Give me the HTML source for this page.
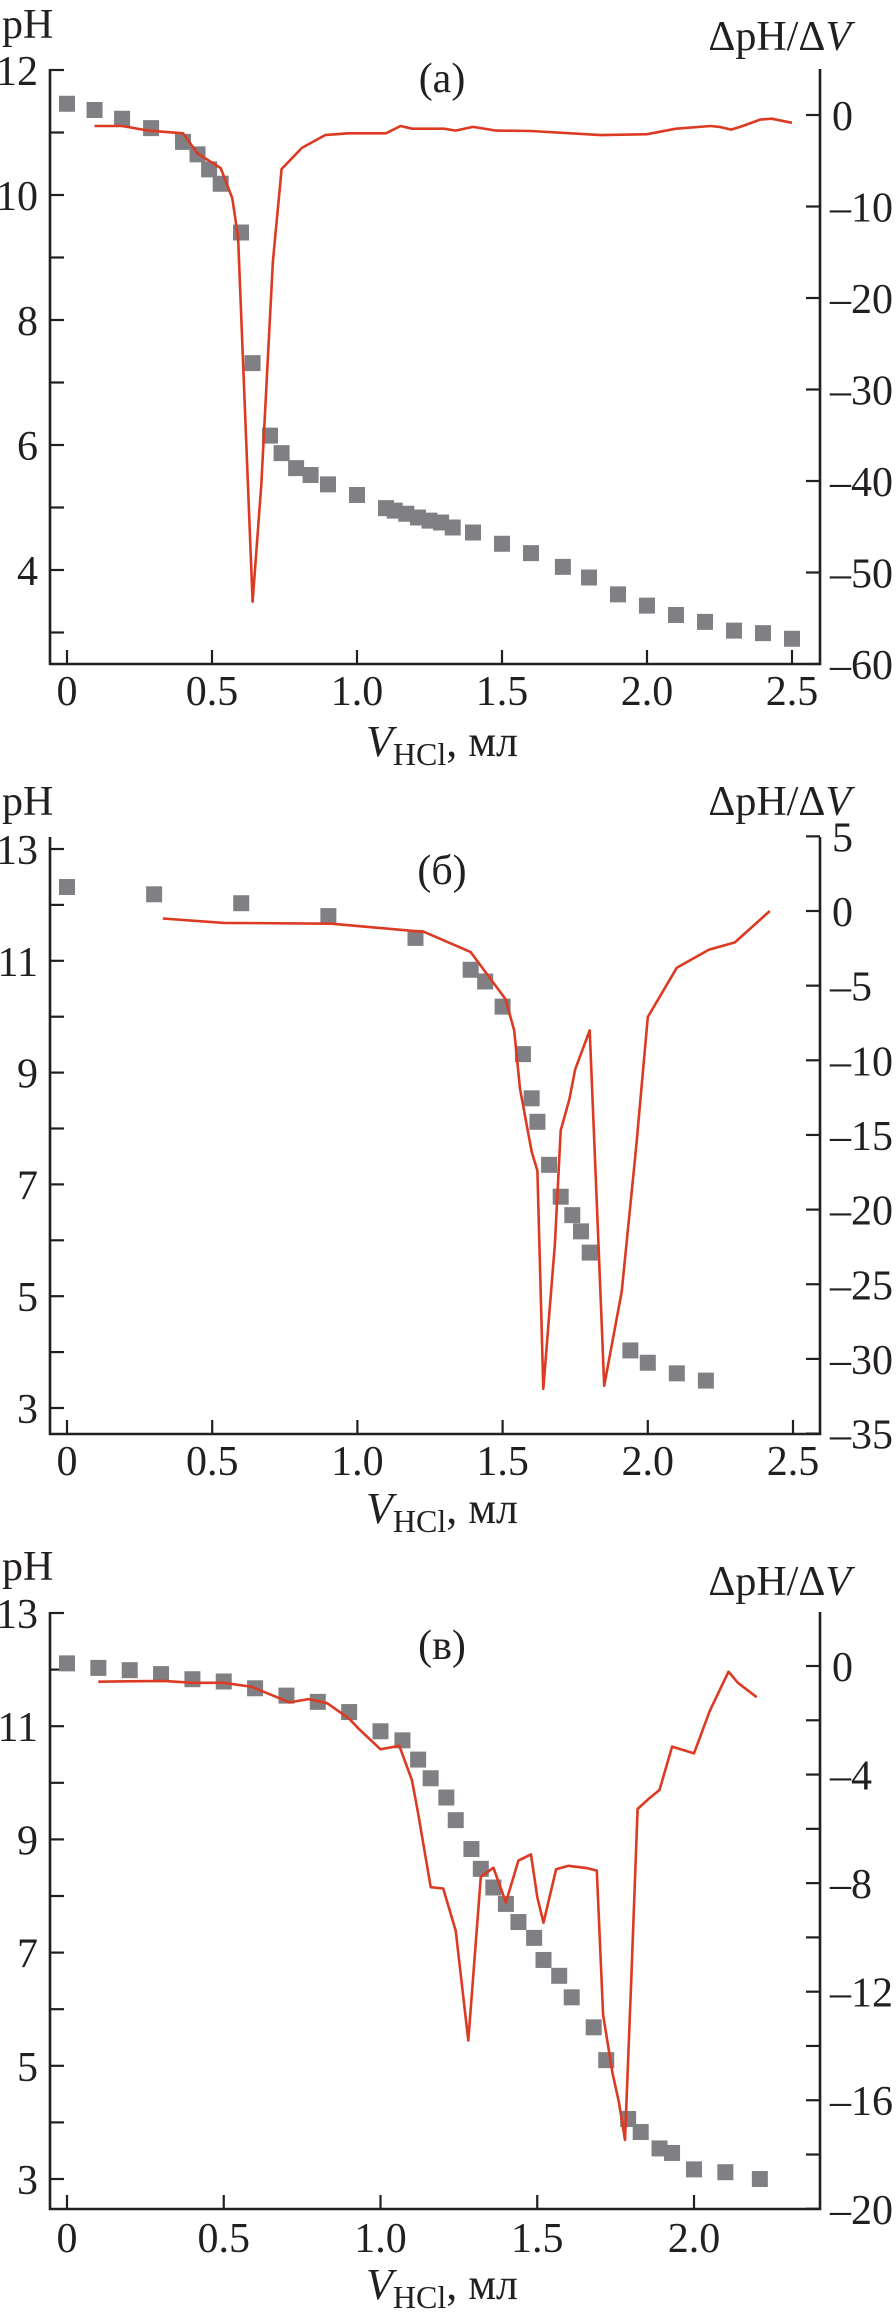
<!DOCTYPE html>
<html><head><meta charset="utf-8">
<style>
html,body{margin:0;padding:0;background:#fff;}
svg{display:block;}
text{font-family:"Liberation Serif","DejaVu Serif",serif;fill:#231f20;}
</style></head>
<body>
<svg id="fig" width="896" height="2320" viewBox="0 0 896 2320" xmlns="http://www.w3.org/2000/svg"></svg>
<script>
// Panel (a) data
const aPhX = [0,0.095,0.19,0.29,0.4,0.45,0.49,0.53,0.6,0.64,0.7,0.74,0.79,0.84,0.9,1.0,1.1,1.13,1.17,1.21,1.25,1.29,1.33,1.4,1.5,1.6,1.71,1.8,1.9,2.0,2.1,2.2,2.3,2.4,2.5];
const aPhY = [11.46,11.36,11.22,11.07,10.85,10.65,10.41,10.18,9.4,7.31,6.15,5.87,5.63,5.52,5.37,5.2,4.99,4.95,4.9,4.84,4.79,4.76,4.68,4.6,4.42,4.27,4.05,3.88,3.61,3.43,3.28,3.17,3.03,2.99,2.9];
const aDX = [0.095,0.19,0.28,0.4,0.45,0.53,0.57,0.59,0.64,0.67,0.71,0.74,0.81,0.89,0.97,1.1,1.15,1.19,1.3,1.34,1.4,1.48,1.6,1.84,2.0,2.1,2.22,2.25,2.29,2.33,2.39,2.43,2.5];
const aDY = [-1.2,-1.2,-1.7,-2.0,-4.2,-5.8,-9.1,-13.4,-53.2,-40.4,-16,-5.9,-3.6,-2.2,-2.0,-2.0,-1.2,-1.5,-1.5,-1.7,-1.3,-1.7,-1.75,-2.2,-2.1,-1.5,-1.2,-1.3,-1.6,-1.2,-0.5,-0.4,-0.85];
// Panel (б) data
const bPhX = [0,0.3,0.6,0.9,1.2,1.39,1.44,1.5,1.57,1.6,1.62,1.66,1.7,1.74,1.77,1.8,1.94,2.0,2.1,2.2];
const bPhY = [12.32,12.19,12.03,11.8,11.41,10.84,10.63,10.18,9.33,8.54,8.12,7.35,6.78,6.45,6.16,5.78,4.03,3.81,3.62,3.49];
const bDX = [0.33,0.54,0.91,1.23,1.39,1.51,1.54,1.56,1.6,1.62,1.64,1.68,1.7,1.73,1.75,1.8,1.82,1.85,1.91,1.96,2.0,2.1,2.21,2.3,2.42];
const bDY = [-0.5,-0.8,-0.85,-1.4,-2.75,-5.9,-8.0,-11.9,-16.1,-17.4,-32,-22.3,-14.7,-12.6,-10.6,-8.0,-17.4,-31.8,-25.5,-15.8,-7.1,-3.8,-2.6,-2.1,0];
// Panel (в) data
const cPhX = [0,0.1,0.2,0.3,0.4,0.5,0.6,0.7,0.8,0.9,1.0,1.07,1.12,1.16,1.21,1.24,1.29,1.32,1.36,1.4,1.44,1.49,1.52,1.57,1.61,1.68,1.72,1.79,1.83,1.89,1.93,2.0,2.1,2.21];
const cPhY = [12.11,12.03,11.99,11.92,11.83,11.79,11.67,11.54,11.43,11.25,10.91,10.75,10.41,10.08,9.74,9.34,8.83,8.48,8.15,7.86,7.54,7.26,6.87,6.59,6.21,5.68,5.1,4.06,3.83,3.54,3.46,3.17,3.12,3.0];
const cDX = [0.1,0.31,0.4,0.5,0.59,0.71,0.77,0.83,0.9,0.93,1.0,1.06,1.1,1.12,1.16,1.2,1.24,1.28,1.32,1.36,1.4,1.44,1.48,1.5,1.52,1.56,1.6,1.66,1.69,1.71,1.74,1.76,1.78,1.8,1.82,1.86,1.89,1.93,2.0,2.05,2.11,2.14,2.2];
const cDY = [-0.58,-0.55,-0.62,-0.62,-0.77,-1.34,-1.22,-1.37,-1.94,-2.31,-3.07,-2.94,-4.2,-5.42,-8.15,-8.2,-9.75,-13.8,-7.77,-7.43,-8.71,-7.17,-6.94,-8.52,-9.46,-7.49,-7.36,-7.45,-7.54,-12.85,-15.0,-16.05,-17.46,-11.53,-5.27,-4.85,-4.57,-2.97,-3.22,-1.66,-0.21,-0.62,-1.15];
// tick labels
const aXTicks = ["0","0.5","1.0","1.5","2.0","2.5"];
const aLTicks = [12,10,8,6,4];
const aRTicks = [0,-10,-20,-30,-40,-50,-60];
const bXTicks = ["0","0.5","1.0","1.5","2.0","2.5"];
const bLTicks = [13,11,9,7,5,3];
const bRTicks = [5,0,-5,-10,-15,-20,-25,-30,-35];
const cXTicks = ["0","0.5","1.0","1.5","2.0"];
const cLTicks = [13,11,9,7,5,3];
const cRTicks = [0,-4,-8,-12,-16,-20];

const NS = "http://www.w3.org/2000/svg";
const svg = document.getElementById('fig');
const FS = 42;
function mk(tag, attrs, parent){
  const e = document.createElementNS(NS, tag);
  for (const k in attrs) e.setAttribute(k, attrs[k]);
  (parent||svg).appendChild(e);
  return e;
}
function fmt(v){ return v<0 ? "\u2013"+Math.abs(v) : String(v); }

function panel(cfg){
  const g = mk('g', {});
  
  
  const L=50, R=820, T=cfg.top, B=cfg.bottom;
  const sx = v => 67 + v*cfg.xPer;
  const sy = v => cfg.ly0 + (cfg.lv0 - v)*cfg.lyPer;
  const sr = v => cfg.ry0 + (cfg.rv0 - v)*cfg.ryPer;
  const frame = mk('path', {d:`M${L},${T} L${L},${B} L${R},${B} L${R},${T}`, fill:'none', stroke:'#231f20','stroke-width':2.6}, g);
  
  
  cfg.xTicks.forEach((t,i)=>{
    const x = sx(i*0.5);
    const tk = mk('line',{x1:x,y1:B,x2:x,y2:B-14,stroke:'#231f20','stroke-width':2.2},g);
    
    
    const tx = mk('text',{x:x,y:cfg.xLabY+15,'font-size':FS,'text-anchor':'middle'},g);
    tx.textContent = t;
    
    
  });
  for (let v=cfg.lMinor[0]; v<=cfg.lMinor[1]; v+=1){
    const y = sy(v);
    const tk = mk('line',{x1:L,y1:y,x2:L+14,y2:y,stroke:'#231f20','stroke-width':2.2},g);
    
    
  }
  cfg.lTicks.forEach(v=>{
    const tx = mk('text',{x:38,y:sy(v)+15,'font-size':FS,'text-anchor':'end'},g);
    tx.textContent = String(v);
    
    
  });
  for (let v=cfg.rMinor[0]; v<=cfg.rMinor[1]; v+=cfg.rStep){
    const y = sr(v);
    const tk = mk('line',{x1:R,y1:y,x2:R-14,y2:y,stroke:'#231f20','stroke-width':2.2},g);
    
    
  }
  cfg.rTicks.forEach(v=>{
    const tx = mk('text',{x:v<0?830:832,y:sr(v)+15,'font-size':FS,'text-anchor':'start'},g);
    tx.textContent = fmt(v);
    
    
  });
  cfg.phX.forEach((xv,i)=>{
    const s = mk('rect',{x:sx(xv)-8,y:sy(cfg.phY[i])-8,width:16,height:16,fill:'#808084'},g);
    
    
  });
  const pts = cfg.dX.map((xv,i)=>sx(xv).toFixed(1)+','+sr(cfg.dY[i]).toFixed(1)).join(' ');
  const pl = mk('polyline',{points:pts,fill:'none',stroke:'#dc3a22','stroke-width':2.6,'stroke-linejoin':'round'},g);
  
  
  const ph = mk('text',{x:2,y:cfg.phLabY+14,'font-size':FS},g);
  ph.textContent='pH';
  
  
  const dl = mk('text',{x:851,y:cfg.dLabY+14,'font-size':FS,'text-anchor':'end'},g);
  dl.innerHTML='\u0394pH/\u0394<tspan font-style="italic">V</tspan>';
  
  
  const pt = mk('text',{x:442,y:cfg.tagY+14,'font-size':FS,'text-anchor':'middle'},g);
  pt.textContent=cfg.tag;
  
  
  const xt = mk('text',{x:442,y:cfg.xTitleY+14,'font-size':FS+2,'text-anchor':'middle'},g);
  xt.innerHTML='<tspan font-style="italic">V</tspan><tspan font-size="32" dy="9">HCl</tspan><tspan dy="-9">, мл</tspan>';
  
  
}

panel({name:'panel-a',top:69,bottom:664,xPer:290,ly0:70,lv0:12,lyPer:62.5,ry0:115,rv0:0,ryPer:9.15,
  xTicks:aXTicks,xLabY:690,lMinor:[3,12],lTicks:aLTicks,rMinor:[-60,0],rStep:10,rTicks:aRTicks,
  phX:aPhX,phY:aPhY,dX:aDX,dY:aDY,phLabY:24,dLabY:36,tag:'(a)',tagY:78,xTitleY:742});
panel({name:'panel-b',top:837,bottom:1434,xPer:290.4,ly0:849,lv0:13,lyPer:55.9,ry0:911,rv0:0,ryPer:14.93,
  xTicks:bXTicks,xLabY:1460,lMinor:[3,13],lTicks:bLTicks,rMinor:[-35,5],rStep:5,rTicks:bRTicks,
  phX:bPhX,phY:bPhY,dX:bDX,dY:bDY,phLabY:801,dLabY:801,tag:'(б)',tagY:870,xTitleY:1509});
panel({name:'panel-c',top:1612,bottom:2209,xPer:313.5,ly0:1613,lv0:13,lyPer:56.6,ry0:1666,rv0:0,ryPer:27.14,
  xTicks:cXTicks,xLabY:2237,lMinor:[3,13],lTicks:cLTicks,rMinor:[-20,0],rStep:2,rTicks:cRTicks,
  phX:cPhX,phY:cPhY,dX:cDX,dY:cDY,phLabY:1566,dLabY:1581,tag:'(в)',tagY:1645,xTitleY:2285});
</script>
</body></html>
